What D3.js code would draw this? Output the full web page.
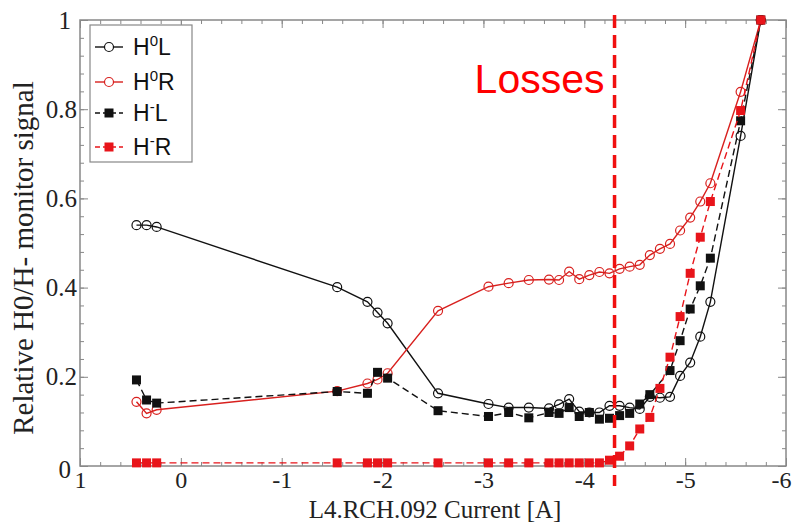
<!DOCTYPE html>
<html>
<head>
<meta charset="utf-8">
<script src="https://cdn.jsdelivr.net/npm/d3@7"></script>
<style>
  body { margin: 0; background: #fff; }
  .axis text { font-family: "Liberation Serif", "Times New Roman", serif; font-size: 25px; fill: #222; }
  .axis path, .axis line { stroke: #888; }
</style>
</head>
<body>
<div class="chart"></div>
<script>
// currents [A] where the monitors were read
const current = [0.44, 0.34, 0.24, -1.55, -1.85, -1.95, -2.05, -2.55, -3.05, -3.25,
  -3.45, -3.65, -3.75, -3.85, -3.95, -4.05, -4.15, -4.25, -4.35, -4.45,
  -4.55, -4.65, -4.75, -4.85, -4.95, -5.05, -5.15, -5.25, -5.55, -5.75];

const h0L = [0.540, 0.540, 0.536, 0.401, 0.368, 0.344, 0.320, 0.163, 0.139, 0.131,
  0.131, 0.129, 0.138, 0.150, 0.122, 0.120, 0.120, 0.135, 0.135, 0.131,
  0.128, 0.155, 0.153, 0.155, 0.202, 0.232, 0.290, 0.368, 0.740, 1.0];

const h0R = [0.144, 0.118, 0.126, 0.168, 0.185, 0.194, 0.208, 0.348, 0.402, 0.410,
  0.417, 0.418, 0.417, 0.436, 0.419, 0.428, 0.435, 0.432, 0.442, 0.447,
  0.451, 0.473, 0.487, 0.498, 0.528, 0.557, 0.593, 0.634, 0.839, 1.0];

// no H-L reading at -4.75
const hmL = [0.193, 0.148, 0.141, 0.167, 0.163, 0.210, 0.197, 0.124, 0.111, 0.120,
  0.108, 0.120, 0.118, 0.131, 0.111, 0.120, 0.105, 0.107, 0.113, 0.118,
  0.139, 0.160, null, 0.214, 0.281, 0.352, 0.404, 0.466, 0.774, 1.0];

const hmR = [0.007, 0.007, 0.007, 0.007, 0.007, 0.007, 0.007, 0.007, 0.007, 0.007,
  0.007, 0.007, 0.007, 0.007, 0.007, 0.007, 0.007, 0.013, 0.022, 0.045,
  0.083, 0.109, 0.174, 0.244, 0.335, 0.432, 0.513, 0.593, 0.797, 1.0];

const xTicks = [1, 0, -1, -2, -3, -4, -5, -6];
const yTicks = [0, 0.2, 0.4, 0.6, 0.8, 1];
const lossCurrent = -4.3;

const margin = { top: 20, right: 8, bottom: 58, left: 80 },
  width = 794 - margin.left - margin.right,
  height = 524 - margin.top - margin.bottom;

const root = d3.select(".chart").append("svg")
  .attr("width", 794)
  .attr("height", 524);

const svg = root.append("g")
  .attr("transform", `translate(${margin.left},${margin.top})`);

const x = d3.scaleLinear().domain([1, -6]).range([0, width]);
const y = d3.scaleLinear().domain([0, 1]).range([height, 0]);

const xMinor = d3.range(0, 36).map(i => 1 - i * 0.2);
const yMinor = d3.range(0, 26).map(i => i * 0.04);

// minor ticks on all four sides
svg.append("g").attr("class", "axis").attr("transform", `translate(0,${height})`)
  .call(d3.axisBottom(x).tickValues(xMinor).tickSize(-4).tickFormat(""));
svg.append("g").attr("class", "axis")
  .call(d3.axisTop(x).tickValues(xMinor).tickSize(-4).tickFormat(""));
svg.append("g").attr("class", "axis")
  .call(d3.axisLeft(y).tickValues(yMinor).tickSize(-4).tickFormat(""));
svg.append("g").attr("class", "axis").attr("transform", `translate(${width},0)`)
  .call(d3.axisRight(y).tickValues(yMinor).tickSize(-4).tickFormat(""));

// major ticks
const xAxisG = svg.append("g").attr("class", "axis").attr("transform", `translate(0,${height})`)
  .call(d3.axisBottom(x).tickValues(xTicks).tickSize(-8).tickPadding(5).tickFormat(d => String(d)));
svg.append("g").attr("class", "axis")
  .call(d3.axisTop(x).tickValues(xTicks).tickSize(-8).tickFormat(""));
const yAxisG = svg.append("g").attr("class", "axis")
  .call(d3.axisLeft(y).tickValues(yTicks).tickSize(-8).tickPadding(3).tickFormat(d => String(d)));
svg.append("g").attr("class", "axis").attr("transform", `translate(${width},0)`)
  .call(d3.axisRight(y).tickValues(yTicks).tickSize(-8).tickFormat(""));

xAxisG.selectAll(".tick text")
  .style("font-size", "24px")
  .attr("dx", d => d === -6 ? -5 : 0);

yAxisG.selectAll(".tick text")
  .attr("dx", d => (d === 0 || d === 1) ? -6 : 0)
  .attr("dy", d => d === 0 ? "0.45em" : "0.32em");

svg.selectAll(".axis .domain").remove();

svg.append("rect")
  .attr("width", width)
  .attr("height", height)
  .attr("fill", "none")
  .attr("stroke", "#888")
  .attr("stroke-width", 1.5);

// axis titles
root.append("text")
  .attr("x", margin.left + width / 2 + 2)
  .attr("y", 518)
  .attr("text-anchor", "middle")
  .style("font-family", "'Liberation Serif', 'Times New Roman', serif")
  .style("font-size", "25px")
  .style("fill", "#222")
  .text("L4.RCH.092 Current [A]");

root.append("text")
  .attr("transform", "translate(33,258) rotate(-90)")
  .attr("text-anchor", "middle")
  .style("font-family", "'Liberation Serif', 'Times New Roman', serif")
  .style("font-size", "29px")
  .style("fill", "#222")
  .text("Relative H0/H- monitor signal");

const series = [
  { key: "H0L", values: h0L, color: "#111", dash: null, shape: "circle", main: "H", sup: "0", tail: "L" },
  { key: "H0R", values: h0R, color: "#d8201e", dash: null, shape: "circle", main: "H", sup: "0", tail: "R" },
  { key: "HmL", values: hmL, color: "#111", dash: "7,4", shape: "square", main: "H", sup: "-", tail: "L" },
  { key: "HmR", values: hmR, color: "#e8141a", dash: "7,4", shape: "square", main: "H", sup: "-", tail: "R" }
];

const line = d3.line()
  .x(d => x(d.c))
  .y(d => y(d.v));

series.forEach(s => {
  const pts = current.map((c, i) => ({ c: c, v: s.values[i] })).filter(d => d.v != null);
  const g = svg.append("g").attr("class", "series-" + s.key);

  g.append("path")
    .datum(pts)
    .attr("d", line)
    .attr("fill", "none")
    .attr("stroke", s.color)
    .attr("stroke-width", 1.4)
    .attr("stroke-dasharray", s.dash);

  if (s.shape === "circle") {
    g.selectAll("circle").data(pts).enter().append("circle")
      .attr("cx", d => x(d.c))
      .attr("cy", d => y(d.v))
      .attr("r", 4.5)
      .attr("fill", "none")
      .attr("stroke", s.color)
      .attr("stroke-width", 1.2);
  } else {
    g.selectAll("rect").data(pts).enter().append("rect")
      .attr("x", d => x(d.c) - 4.5)
      .attr("y", d => y(d.v) - 4.5)
      .attr("width", 9)
      .attr("height", 9)
      .attr("fill", s.color);
  }
});

// losses marker
svg.append("line")
  .attr("x1", x(lossCurrent))
  .attr("x2", x(lossCurrent))
  .attr("y1", -5)
  .attr("y2", height + 20)
  .attr("stroke", "#f01010")
  .attr("stroke-width", 3.5)
  .attr("stroke-dasharray", "13,7");

svg.append("text")
  .attr("x", x(lossCurrent) - 10)
  .attr("y", 73)
  .attr("text-anchor", "end")
  .style("font-family", "'Liberation Sans', Arial, sans-serif")
  .style("font-size", "41px")
  .style("fill", "#ff0000")
  .text("Losses");

// legend
const legend = svg.append("g").attr("transform", "translate(10,5)");
legend.append("rect")
  .attr("width", 102)
  .attr("height", 137)
  .attr("fill", "#fff")
  .attr("stroke", "#888")
  .attr("stroke-width", 1.2);

const rowY = [22, 57, 88, 122];
series.forEach((s, i) => {
  const row = legend.append("g").attr("transform", `translate(0,${rowY[i]})`);
  row.append("line")
    .attr("x1", 5).attr("x2", 33)
    .attr("stroke", s.color)
    .attr("stroke-width", 1.4)
    .attr("stroke-dasharray", s.dash ? "5,3" : null);
  if (s.shape === "circle") {
    row.append("circle").attr("cx", 19).attr("r", 4.5)
      .attr("fill", "#fff").attr("stroke", s.color).attr("stroke-width", 1.2);
  } else {
    row.append("rect").attr("x", 14.5).attr("y", -4.5).attr("width", 9).attr("height", 9)
      .attr("fill", s.color);
  }
  const t = row.append("text")
    .attr("x", 43)
    .attr("y", 8)
    .style("font-family", "'Liberation Sans', Arial, sans-serif")
    .style("font-size", "23px")
    .style("fill", "#111");
  t.append("tspan").text(s.main);
  t.append("tspan").attr("dy", -9).style("font-size", "15px").text(s.sup);
  t.append("tspan").attr("dy", 9).text(s.tail);
});
</script>
</body>
</html>
